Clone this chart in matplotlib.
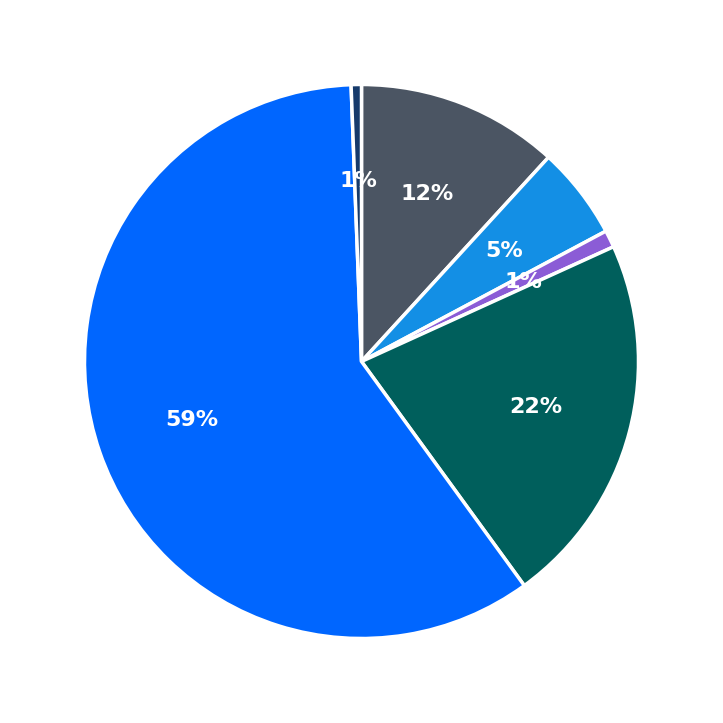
import matplotlib
matplotlib.use("Agg")
import matplotlib.pyplot as plt

labels = ["Gray", "Light blue", "Purple", "Teal", "Blue", "Navy"]
values = [11.8, 5.4, 1.0, 21.8, 59.4, 0.6]
colors = ["#4B5563", "#138FE5", "#8B5CD6", "#005F5C", "#0066FF", "#163A6B"]

fig = plt.figure(figsize=(7.23, 7.23), dpi=100)
ax = fig.add_axes([0, 0, 1, 1])
wedges, texts, autotexts = ax.pie(
    values, colors=colors, startangle=90, counterclock=False,
    autopct="%1.0f%%", pctdistance=0.65, radius=1.0,
    wedgeprops=dict(edgecolor="white", linewidth=2.5),
    textprops=dict(color="white", fontsize=16, fontweight="bold"),
)
lim = 723 / 2 / 277
ax.set_xlim(-lim, lim)
ax.set_ylim(-lim, lim)
ax.set_aspect("equal")
ax.axis("off")
fig.savefig("out.png", dpi=100)
